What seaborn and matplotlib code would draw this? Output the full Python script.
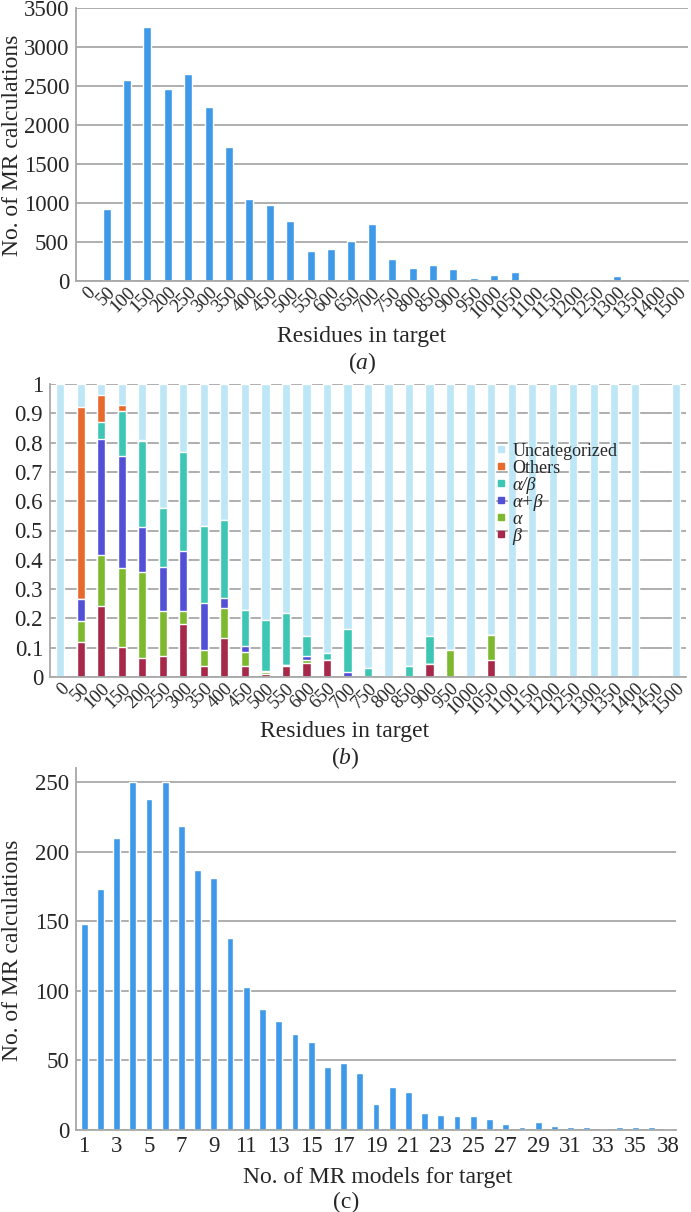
import numpy as np
import matplotlib
matplotlib.use("Agg")
import matplotlib.pyplot as plt
import seaborn as sns
from matplotlib.lines import Line2D

sns.set_theme(style="white")
plt.rcParams['font.family'] = ['Liberation Serif', 'DejaVu Serif']
plt.rcParams['mathtext.fontset'] = 'custom'
plt.rcParams['mathtext.rm'] = 'Liberation Serif'
plt.rcParams['mathtext.it'] = 'Liberation Serif:italic'

# ---------------- data ----------------
# Panel (a)
res_a = ["0", "50", "100", "150", "200", "250", "300", "350", "400", "450", "500",
         "550", "600", "650", "700", "750", "800", "850", "900", "950", "1000",
         "1050", "1100", "1150", "1200", "1250", "1300", "1350", "1400", "1500"]
calc_a = [3, 920, 2580, 3252, 2456, 2657, 2228, 1724, 1055, 972, 765,
          382, 408, 518, 728, 288, 172, 210, 155, 35, 82,
          118, 10, 0, 17, 20, 68, 20, 12, 10]

# Panel (b)
res_b = ["0", "50", "100", "150", "200", "250", "300", "350", "400", "450", "500",
         "550", "600", "650", "700", "750", "800", "850", "900", "950", "1000",
         "1050", "1100", "1150", "1200", "1250", "1300", "1350", "1400", "1450", "1500"]
beta = [0, 0.118, 0.241, 0.102, 0.066, 0.072, 0.180, 0.036, 0.134, 0.037, 0.009,
        0.036, 0.047, 0.057, 0, 0, 0, 0, 0.044, 0, 0,
        0.059, 0, 0, 0, 0, 0, 0, 0, 0, 0]
alpha = [0, 0.073, 0.175, 0.270, 0.294, 0.152, 0.046, 0.057, 0.101, 0.047, 0.007,
         0.006, 0.010, 0.002, 0, 0, 0, 0, 0, 0.093, 0,
         0.086, 0, 0, 0, 0, 0, 0, 0, 0, 0]
alpha_plus_beta = [0, 0.075, 0.396, 0.381, 0.151, 0.152, 0.203, 0.159, 0.033, 0.023, 0.006,
                   0, 0.013, 0, 0.018, 0, 0, 0, 0, 0, 0,
                   0, 0, 0, 0, 0, 0, 0, 0, 0, 0]
alpha_over_beta = [0, 0, 0.057, 0.155, 0.295, 0.202, 0.338, 0.262, 0.267, 0.120, 0.173,
                   0.175, 0.071, 0.022, 0.146, 0.032, 0, 0.036, 0.096, 0, 0,
                   0, 0, 0, 0, 0, 0, 0, 0, 0, 0]
others = [0, 0.654, 0.095, 0.020, 0.003, 0, 0, 0, 0, 0, 0,
          0, 0, 0, 0, 0, 0, 0, 0, 0, 0,
          0, 0, 0, 0, 0, 0, 0, 0, 0, 0]
uncategorized = [1, 0.080, 0.036, 0.072, 0.191, 0.422, 0.233, 0.486, 0.465, 0.773, 0.805,
                 0.783, 0.859, 0.919, 0.836, 0.968, 1, 0.964, 0.860, 0.907, 1,
                 0.855, 1, 1, 1, 1, 1, 1, 1, 0, 1]

# Panel (c)
models_c = ["1", "2", "3", "4", "5", "6", "7", "8", "9", "10", "11", "12", "13",
            "14", "15", "16", "17", "18", "19", "20", "21", "22", "23", "24", "25",
            "26", "27", "28", "29", "30", "31", "32", "33", "34", "35", "36", "38"]
calc_c = [148, 173, 210, 250, 238, 250, 218, 187, 181, 138, 103, 87, 78,
          69, 63, 45, 48, 41, 19, 31, 27, 12, 11, 10, 10,
          8, 4, 2, 6, 3, 2, 2, 1, 2, 2, 2, 1]

# ---------------- styling ----------------
BAR_BLUE = "#3E9AE8"
GRID = "#A8A8A8"
cols = {"Uncategorized": "#BDE7F7", "Others": "#E8692E", "α/β": "#3EC6B4",
        "α+β": "#5350D8", "α": "#7DB92F", "β": "#A6294A"}
TICK_FS = 16.5
ROT_FS = 13.5
LAB_FS = 17

W, H = 691, 1212
fig = plt.figure(figsize=(W / 100, H / 100), dpi=100)


def rect(l, t, r, b):
    return [l / W, 1 - b / H, (r - l) / W, (b - t) / H]


def style_axes(ax, n):
    ax.set_axisbelow(True)
    ax.yaxis.grid(True, color=GRID, linewidth=1.3)
    ax.xaxis.grid(False)
    for s in ["top", "right"]:
        ax.spines[s].set_visible(False)
    for s in ["left", "bottom"]:
        ax.spines[s].set_color(GRID)
        ax.spines[s].set_linewidth(1.3)
    ax.set_xlim(-0.5, n - 0.5)
    ax.set_xticks(np.arange(-0.5, n, 1.0), minor=True)
    ax.tick_params(axis="x", which="minor", length=5, color=GRID, width=1.2, direction="out")
    ax.tick_params(axis="x", which="major", length=0, pad=2)
    ax.tick_params(axis="y", length=0, pad=5, labelsize=TICK_FS)
    ax.set_xlabel("")
    ax.set_ylabel("")


# ---- panel (a)
axa = fig.add_axes(rect(76, 8, 688, 281))
sns.barplot(x=res_a, y=calc_a, order=res_a, color=BAR_BLUE, saturation=1,
            width=0.4, ax=axa)
style_axes(axa, len(res_a))
axa.set_ylim(0, 3500)
axa.set_yticks(np.arange(0, 3501, 500))
axa.set_xticks(range(len(res_a)))
axa.set_xticklabels(res_a, rotation=45, ha="right", va="top",
                    rotation_mode="anchor", fontsize=ROT_FS)

# ---- panel (b)
axb = fig.add_axes(rect(50, 384, 686, 677))
layers = [("β", beta), ("α", alpha), ("α+β", alpha_plus_beta), ("α/β", alpha_over_beta),
          ("Others", others), ("Uncategorized", uncategorized)]
cum = np.cumsum(np.array([v for _, v in layers]), axis=0)
for i in range(len(layers) - 1, -1, -1):
    name = layers[i][0]
    sns.barplot(x=res_b, y=cum[i], order=res_b, color=cols[name], saturation=1,
                width=0.4, ax=axb)
style_axes(axb, len(res_b))
axb.set_ylim(0, 1)
axb.set_yticks(np.arange(0, 1.01, 0.1))
axb.set_yticklabels(["0", "0.1", "0.2", "0.3", "0.4", "0.5", "0.6", "0.7", "0.8", "0.9", "1"])
axb.set_xticks(range(len(res_b)))
axb.set_xticklabels(res_b, rotation=45, ha="right", va="top",
                    rotation_mode="anchor", fontsize=ROT_FS)

handles = [Line2D([], [], marker="s", linestyle="none", markersize=4,
                  markerfacecolor=cols[n], markeredgecolor=cols[n])
           for n, _ in layers[::-1]]
labels = [n for n, _ in layers[::-1]]
leg = axb.legend(handles, labels, loc="upper left", bbox_to_anchor=(0.70, 0.80),
                 frameon=False, fontsize=13, handlelength=0.6, handletextpad=0.35,
                 labelspacing=0.0, borderpad=0, borderaxespad=0)
for t in leg.get_texts():
    if t.get_text() not in ("Uncategorized", "Others"):
        t.set_fontstyle("italic")

# ---- panel (c)
axc = fig.add_axes(rect(76, 768, 676, 1130))
sns.barplot(x=models_c, y=calc_c, order=models_c, color=BAR_BLUE, saturation=1,
            width=0.42, ax=axc)
style_axes(axc, len(models_c))
axc.set_ylim(0, 260)
axc.set_yticks(np.arange(0, 251, 50))
show = [lab if (i % 2 == 0 or i == len(models_c) - 1) and i != len(models_c) - 2 else ""
        for i, lab in enumerate(models_c)]
axc.set_xticks(range(len(models_c)))
axc.set_xticklabels(show, fontsize=TICK_FS)
axc.tick_params(axis="x", which="major", pad=4)

# ---- free text
fig.text(13 / W, 1 - 145 / H, "No. of MR calculations", rotation=90, ha="center",
         va="center", fontsize=LAB_FS)
fig.text(362 / W, 1 - 337 / H, "Residues in target", ha="center", va="center", fontsize=LAB_FS)
fig.text(362 / W, 1 - 363 / H, r"($\mathit{a}$)", ha="center", va="center", fontsize=LAB_FS)
fig.text(345 / W, 1 - 732 / H, "Residues in target", ha="center", va="center", fontsize=LAB_FS)
fig.text(345 / W, 1 - 758 / H, r"($\mathit{b}$)", ha="center", va="center", fontsize=LAB_FS)
fig.text(13 / W, 1 - 950 / H, "No. of MR calculations", rotation=90, ha="center",
         va="center", fontsize=LAB_FS)
fig.text(378 / W, 1 - 1177 / H, "No. of MR models for target", ha="center",
         va="center", fontsize=LAB_FS)
fig.text(346 / W, 1 - 1202 / H, "(c)", ha="center", va="center", fontsize=LAB_FS)

fig.savefig("out.png", dpi=100)
